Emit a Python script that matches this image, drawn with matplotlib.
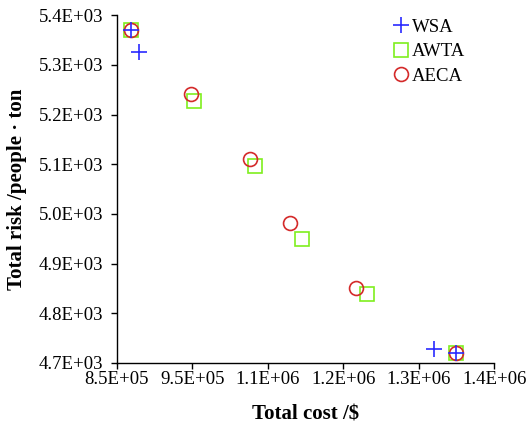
import matplotlib
matplotlib.use("Agg")
import matplotlib.pyplot as plt

plt.rcParams['font.family'] = ['Liberation Serif', 'DejaVu Serif']

# Pareto fronts: total cost ($) vs total risk (people·ton)
wsa_cost = [870000, 882500, 1312700, 1344300]
wsa_risk = [5370, 5327, 4728, 4721]

awta_cost = [870000, 962200, 1051900, 1120000, 1214200, 1344000]
awta_risk = [5370, 5227, 5097, 4950, 4839, 4721]

aeca_cost = [870000, 957800, 1043200, 1102900, 1199100, 1344300]
aeca_risk = [5370, 5241, 5111, 4981, 4851, 4721]

x_ticks = [850000, 960000, 1070000, 1180000, 1290000, 1400000]
x_tick_labels = ['8.5E+05', '9.5E+05', '1.1E+06', '1.2E+06', '1.3E+06', '1.4E+06']
y_ticks = [4700, 4800, 4900, 5000, 5100, 5200, 5300, 5400]
y_tick_labels = ['4.7E+03', '4.8E+03', '4.9E+03', '5.0E+03', '5.1E+03', '5.2E+03', '5.3E+03', '5.4E+03']

fig = plt.figure(figsize=(5.26, 4.24), dpi=100)
ax = fig.add_axes([0.2224, 0.1439, 0.7173, 0.8200])

ax.plot(wsa_cost, wsa_risk, linestyle='none', marker='+', markersize=11,
        markeredgewidth=1.2, color='#2a2aff', label='WSA', zorder=4)
ax.plot(awta_cost, awta_risk, linestyle='none', marker='s', markersize=9.5,
        markeredgewidth=1.2, markerfacecolor='none', markeredgecolor='#7fef1e',
        label='AWTA', zorder=2)
ax.plot(aeca_cost, aeca_risk, linestyle='none', marker='o', markersize=10,
        markeredgewidth=1.2, markerfacecolor='none', markeredgecolor='#d42a2a',
        label='AECA', zorder=3)

ax.set_xlim(850000, 1400000)
ax.set_ylim(4700, 5400)
ax.set_xticks(x_ticks)
ax.set_xticklabels(x_tick_labels)
ax.set_yticks(y_ticks)
ax.set_yticklabels(y_tick_labels)

for side in ('top', 'right'):
    ax.spines[side].set_visible(False)
for side in ('left', 'bottom'):
    ax.spines[side].set_linewidth(1.0)
ax.tick_params(direction='out', length=4, width=1.0, labelsize=13.5, colors='black')
ax.tick_params(axis='y', pad=6)
ax.tick_params(axis='x', pad=1.5)

ax.set_xlabel('Total cost /$', fontsize=15, fontweight='bold', labelpad=12)
ax.set_ylabel('Total risk /people · ton', fontsize=15, fontweight='bold', labelpad=8)

leg = ax.legend(loc='upper left', bbox_to_anchor=(0.703, 1.023), frameon=False,
                fontsize=13.5, handlelength=0.8, handletextpad=0.2,
                labelspacing=0.4, borderaxespad=0.2)

fig.savefig('out.png', dpi=100)
